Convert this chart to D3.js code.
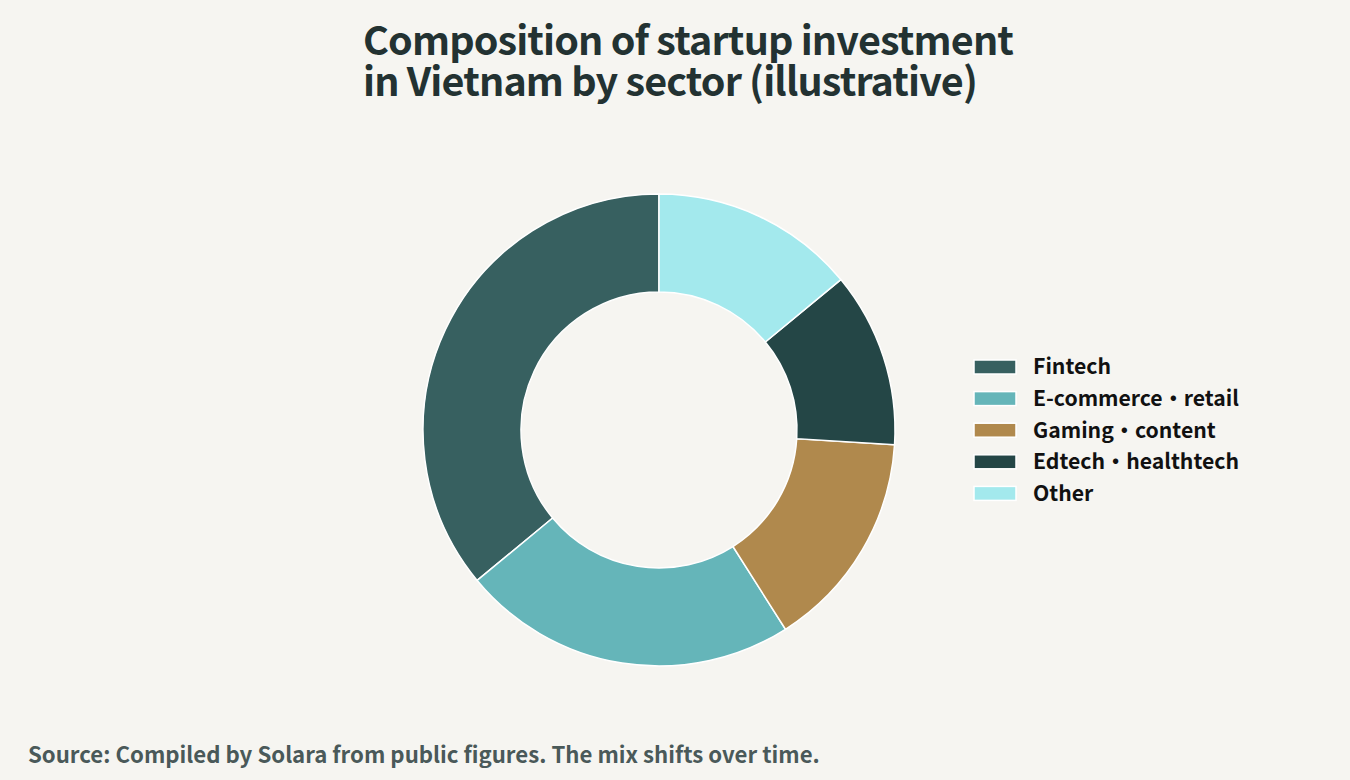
<!DOCTYPE html>
<html>
<head>
<meta charset="utf-8">
<script src="https://cdn.jsdelivr.net/npm/d3@7"></script>
<style>
  body { margin: 0; background: #f6f5f1; }
  text { font-family: "Noto Sans CJK JP", "Noto Sans", sans-serif; }
</style>
</head>
<body>
<div id="chart"></div>
<script>
const width = 1350, height = 780;

const sectors = ["Fintech", "E-commerce・retail", "Gaming・content", "Edtech・healthtech", "Other"];
const shares = [36, 23, 15, 12, 14];
const colors = ["#376060", "#65b5b9", "#b0894d", "#244646", "#a3e9ed"];
const titleLines = ["Composition of startup investment", "in Vietnam by sector (illustrative)"];
const sourceNote = "Source: Compiled by Solara from public figures. The mix shifts over time.";

const data = sectors.map((s, i) => ({ sector: s, value: shares[i] }));

const svg = d3.select("#chart").append("svg")
  .attr("width", width)
  .attr("height", height)
  .attr("viewBox", [0, 0, width, height]);

svg.append("rect")
  .attr("width", width)
  .attr("height", height)
  .attr("fill", "#f6f5f1");

// two-line title, left edge lines up with the donut's left side
svg.append("text")
  .attr("x", 363)
  .attr("y", 55)
  .attr("fill", "#233232")
  .attr("font-size", 39.5)
  .attr("font-weight", 700)
  .attr("letter-spacing", -0.85)
  .selectAll("tspan")
  .data(titleLines)
  .join("tspan")
    .attr("x", 363)
    .attr("dy", (d, i) => i === 0 ? 0 : 41)
    .text(d => d);

const colorScale = d3.scaleOrdinal().domain(sectors).range(colors);

// slices run counter-clockwise from 12 o'clock
const pie = d3.pie()
  .value(d => d.value)
  .sort(null)
  .startAngle(0)
  .endAngle(-2 * Math.PI);

const arc = d3.arc()
  .innerRadius(138)
  .outerRadius(236);

const donut = svg.append("g")
  .attr("transform", "translate(659, 430)");

donut.selectAll("path")
  .data(pie(data))
  .join("path")
    .attr("d", arc)
    .attr("fill", d => colorScale(d.data.sector))
    .attr("stroke", "#ffffff")
    .attr("stroke-width", 1.5);

const legend = svg.append("g")
  .attr("transform", "translate(974, 367)");

const rows = legend.selectAll("g")
  .data(sectors)
  .join("g")
    .attr("transform", (d, i) => `translate(0, ${i * 31.6})`);

rows.append("rect")
  .attr("x", 0)
  .attr("y", -7)
  .attr("width", 42)
  .attr("height", 14)
  .attr("fill", d => colorScale(d))
  .attr("stroke", "#ffffff")
  .attr("stroke-width", 1.5);

rows.append("text")
  .attr("x", 59)
  .attr("y", 0)
  .attr("dy", "0.35em")
  .attr("font-size", 21.2)
  .attr("font-weight", 700)
  .attr("fill", "#111111")
  .text(d => d);

svg.append("text")
  .attr("x", 28)
  .attr("y", 763)
  .attr("font-size", 22.2)
  .attr("font-weight", 700)
  .attr("fill", "#4a5959")
  .text(sourceNote);
</script>
</body>
</html>
